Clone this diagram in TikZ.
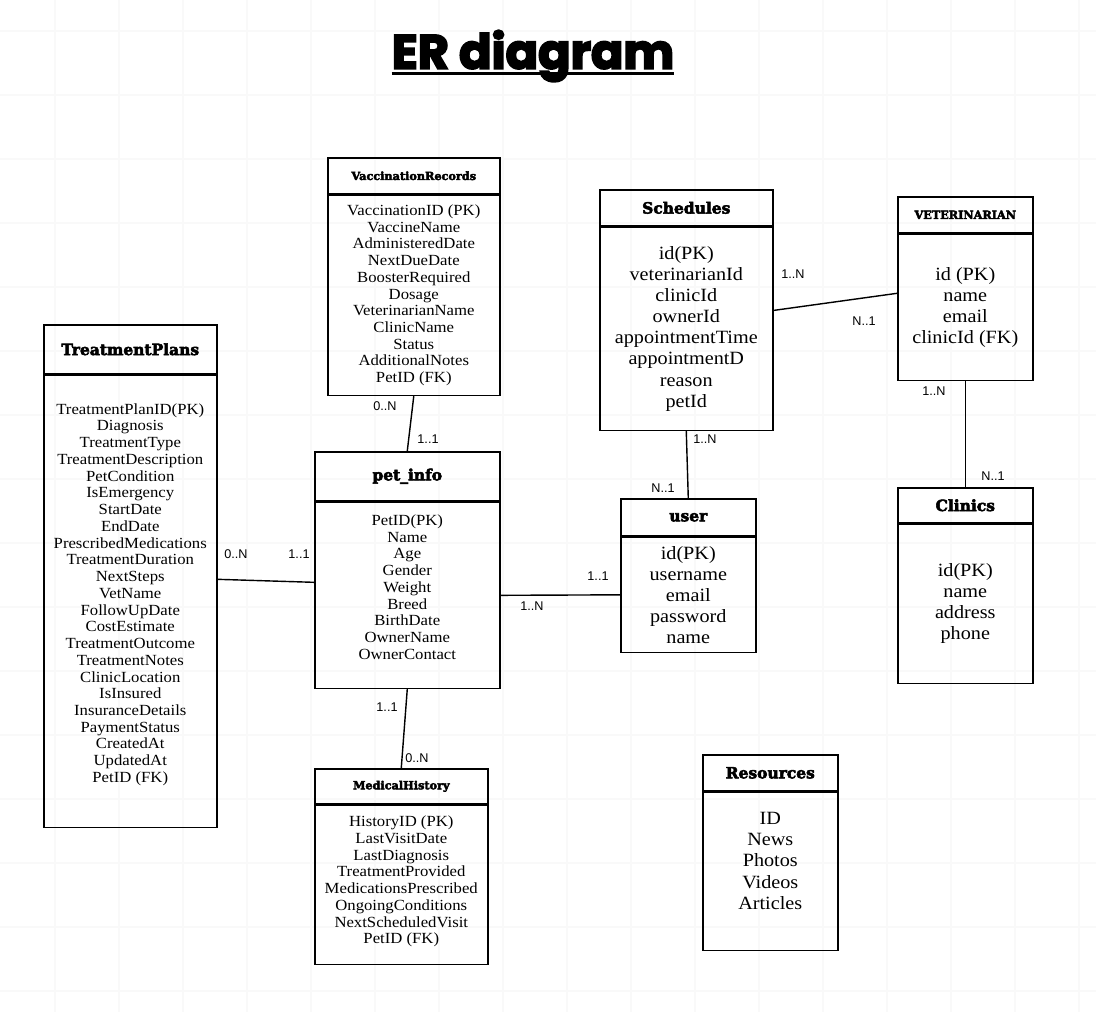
\documentclass[tikz,border=0pt]{standalone}
\usepackage{fontspec}
\setmainfont{Liberation Serif}[FakeStretch=1.08]
\newfontfamily\hdfont{DejaVu Serif}[FakeBold=3.5]
\newfontfamily\ttlfont{Poppins}[FakeBold=4]
\newfontfamily\lblfont{Liberation Sans}
\newcommand{\smallbody}{\fontsize{11}{11.9}\selectfont}
\newcommand{\bigbody}{\fontsize{13.3}{15}\selectfont}
\tikzset{
  wh/.style 2 args={minimum width=#1*0.025cm, minimum height=#2*0.025cm},
  hd/.style={draw, line width=1.1pt, inner sep=0pt, align=center, anchor=north west},
  bd/.style={draw, line width=1.1pt, inner sep=0pt, align=center, anchor=north west},
  bighd/.style={font=\hdfont\bfseries\fontsize{11}{13}\selectfont},
  smallhd/.style={font=\hdfont\bfseries\fontsize{8}{10}\selectfont},
  sep/.style={line width=2.6pt},
  card/.style={font=\lblfont\fontsize{9}{10}\selectfont, inner sep=0pt},
  link/.style={line width=1pt},
  gridline/.style={black!2.5, line width=0.8pt}
}
\begin{document}
\begin{tikzpicture}[x=0.025cm,y=-0.025cm]
                \useasboundingbox (0,0) rectangle (1096,1012);
                \foreach \gx in {55,119,...,1096} \draw[gridline] (\gx,0) -- (\gx,1012);
                \foreach \gy in {31,95,...,1012} \draw[gridline] (0,\gy) -- (1096,\gy);
                \node[font=\ttlfont\bfseries\fontsize{34}{36}\selectfont, inner sep=0pt] (title) at (533,56) {ER diagram};
                \draw[line width=2.2pt] ([yshift=-3.5pt]title.base west) -- ([yshift=-3.5pt]title.base east);
                \node[hd, smallhd, wh={172}{36}] (vacc) at (327,157) {VaccinationRecords};
                \node[bd, wh={172}{200}, font=\smallbody] (vaccB) at (vacc.south west) {VaccinationID (PK)\\VaccineName\\AdministeredDate\\NextDueDate\\BoosterRequired\\Dosage\\VeterinarianName\\ClinicName\\Status\\AdditionalNotes\\PetID (FK)};
                \draw[sep] (vacc.south west) -- (vacc.south east);
                \node[hd, bighd, wh={173}{49}] (treat) at (43,324) {TreatmentPlans};
                \node[bd, wh={173}{452}, font=\smallbody] (treatB) at (treat.south west) {TreatmentPlanID(PK)\\Diagnosis\\TreatmentType\\TreatmentDescription\\PetCondition\\IsEmergency\\StartDate\\EndDate\\PrescribedMedications\\TreatmentDuration\\NextSteps\\VetName\\FollowUpDate\\CostEstimate\\TreatmentOutcome\\TreatmentNotes\\ClinicLocation\\IsInsured\\InsuranceDetails\\PaymentStatus\\CreatedAt\\UpdatedAt\\PetID (FK)\\};
                \draw[sep] (treat.south west) -- (treat.south east);
                \node[hd, bighd, wh={185}{49}] (pet) at (314,451) {pet\_info};
                \node[bd, wh={185}{186}, font=\smallbody] (petB) at (pet.south west) {PetID(PK)\\Name\\Age\\Gender\\Weight\\Breed\\BirthDate\\OwnerName\\OwnerContact\\};
                \draw[sep] (pet.south west) -- (pet.south east);
                \node[hd, smallhd, wh={173}{35}] (med) at (314,768) {MedicalHistory};
                \node[bd, wh={173}{159}, font=\smallbody] (medB) at (med.south west) {HistoryID (PK)\\LastVisitDate\\LastDiagnosis\\TreatmentProvided\\MedicationsPrescribed\\OngoingConditions\\NextScheduledVisit\\PetID (FK)\\[-5pt]};
                \draw[sep] (med.south west) -- (med.south east);
                \node[hd, bighd, wh={173}{36}] (sched) at (599,189) {Schedules};
                \node[bd, wh={173}{203}, font=\bigbody] (schedB) at (sched.south west) {id(PK)\\veterinarianId\\clinicId\\ownerId\\appointmentTime\\appointmentD\\reason\\petId};
                \draw[sep] (sched.south west) -- (sched.south east);
                \node[hd, smallhd, wh={135}{36}] (vet) at (897,196) {VETERINARIAN};
                \node[bd, wh={135}{146}, font=\bigbody] (vetB) at (vet.south west) {id (PK)\\name\\email\\clinicId (FK)};
                \draw[sep] (vet.south west) -- (vet.south east);
                \node[hd, bighd, wh={135}{37}] (user) at (620,498) {user};
                \node[bd, wh={135}{115}, font=\bigbody] (userB) at (user.south west) {id(PK)\\username\\email\\password\\name};
                \draw[sep] (user.south west) -- (user.south east);
                \node[hd, bighd, wh={135}{35}] (clin) at (897,487) {Clinics};
                \node[bd, wh={135}{159}, font=\bigbody] (clinB) at (clin.south west) {id(PK)\\name\\address\\phone};
                \draw[sep] (clin.south west) -- (clin.south east);
                \node[hd, bighd, wh={135}{36}] (res) at (702,754) {Resources};
                \node[bd, wh={135}{158}, font=\bigbody] (resB) at (res.south west) {ID\\News\\Photos\\Videos\\Articles\\};
                \draw[sep] (res.south west) -- (res.south east);
                \draw[link] (vaccB.south) -- (pet.north);
                \draw[link] ([yshift=0.55cm]treatB.east) -- ([yshift=0.325cm]petB.west);
                \draw[link] (petB.east) -- (userB.west);
                \draw[link] (schedB.south) -- (user.north);
                \draw[link] ([yshift=0.46cm]schedB.east) -- ([yshift=0.35cm]vetB.west);
                \draw[link] (vetB.south) -- (clin.north);
                \draw[link] (petB.south) -- (med.north);
                \node[card] (vaccM) at (385,406) {0..N};
                \node[card] (petV) at (428,439) {1..1};
                \node[card] (treatM) at (236,554) {0..N};
                \node[card] (petT) at (299,554) {1..1};
                \node[card] (petU) at (532,606) {1..N};
                \node[card] (userP) at (598,576) {1..1};
                \node[card] (schedU) at (705,439) {1..N};
                \node[card] (userS) at (663,488) {N..1};
                \node[card] (schedV) at (793,274) {1..N};
                \node[card] (vetS) at (864,321) {N..1};
                \node[card] (vetC) at (934,391) {1..N};
                \node[card] (clinV) at (993,476) {N..1};
                \node[card] (petM) at (387,707) {1..1};
                \node[card] (medP) at (417,758) {0..N};
\end{tikzpicture}
\end{document}
